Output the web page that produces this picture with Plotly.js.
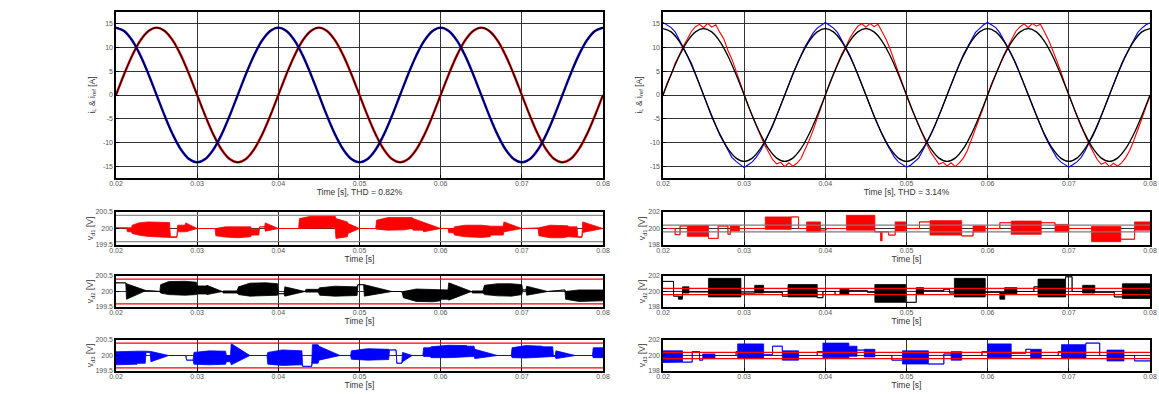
<!DOCTYPE html>
<html><head><meta charset="utf-8">
<script src="https://cdn.plot.ly/plotly-3.0.1.min.js"></script>
<style>html,body{margin:0;padding:0;background:#fff}#chart{width:1159px;height:394px}</style>
</head><body><div id="chart"></div>
<script>
// ---------- DATA ----------
const xTicks = [0.02,0.03,0.04,0.05,0.06,0.07,0.08];
const xTickText = ['0.02','0.03','0.04','0.05','0.06','0.07','0.08'];
const iTicks = [-15,-10,-5,0,5,10,15];
const vTicksLeft = [199.5,200,200.5];
const vTickTextLeft = ['199.5','200','200.5'];
const vTicksRight = [198,200,202];
const vTickTextRight = ['198','200','202'];
const limitsLeft = [200.4,199.6];
const limitsRight = [200.4,199.6];

// reference time grid (s) for the top plots
const tRef = [0.02,0.021,0.022,0.023,0.024,0.025,0.026,0.027,0.028,0.029,
0.03,0.031,0.032,0.033,0.034,0.035,0.036,0.037,0.038,0.039,
0.04,0.041,0.042,0.043,0.044,0.045,0.046,0.047,0.048,0.049,
0.05,0.051,0.052,0.053,0.054,0.055,0.056,0.057,0.058,0.059,
0.06,0.061,0.062,0.063,0.064,0.065,0.066,0.067,0.068,0.069,
0.07,0.071,0.072,0.073,0.074,0.075,0.076,0.077,0.078,0.079,0.08];

// left: currents and references (THD 0.82%)
const iL1Left = [0,4.39,8.35,11.49,13.5,14.2,13.5,11.49,8.35,4.39,0,-4.39,-8.35,-11.49,-13.5,-14.2,-13.5,-11.49,-8.35,-4.39,
0,4.39,8.35,11.49,13.5,14.2,13.5,11.49,8.35,4.39,0,-4.39,-8.35,-11.49,-13.5,-14.2,-13.5,-11.49,-8.35,-4.39,
0,4.39,8.35,11.49,13.5,14.2,13.5,11.49,8.35,4.39,0,-4.39,-8.35,-11.49,-13.5,-14.2,-13.5,-11.49,-8.35,-4.39,0];
const iL2Left = [14.2,13.5,11.49,8.35,4.39,0,-4.39,-8.35,-11.49,-13.5,-14.2,-13.5,-11.49,-8.35,-4.39,0,4.39,8.35,11.49,13.5,
14.2,13.5,11.49,8.35,4.39,0,-4.39,-8.35,-11.49,-13.5,-14.2,-13.5,-11.49,-8.35,-4.39,0,4.39,8.35,11.49,13.5,
14.2,13.5,11.49,8.35,4.39,0,-4.39,-8.35,-11.49,-13.5,-14.2,-13.5,-11.49,-8.35,-4.39,0,4.39,8.35,11.49,13.5,14.2];
const iRef1Left = [0,4.39,8.35,11.49,13.5,14.2,13.5,11.49,8.35,4.39,0,-4.39,-8.35,-11.49,-13.5,-14.2,-13.5,-11.49,-8.35,-4.39,
0,4.39,8.35,11.49,13.5,14.2,13.5,11.49,8.35,4.39,0,-4.39,-8.35,-11.49,-13.5,-14.2,-13.5,-11.49,-8.35,-4.39,
0,4.39,8.35,11.49,13.5,14.2,13.5,11.49,8.35,4.39,0,-4.39,-8.35,-11.49,-13.5,-14.2,-13.5,-11.49,-8.35,-4.39,0];
const iRef2Left = [14.2,13.5,11.49,8.35,4.39,0,-4.39,-8.35,-11.49,-13.5,-14.2,-13.5,-11.49,-8.35,-4.39,0,4.39,8.35,11.49,13.5,
14.2,13.5,11.49,8.35,4.39,0,-4.39,-8.35,-11.49,-13.5,-14.2,-13.5,-11.49,-8.35,-4.39,0,4.39,8.35,11.49,13.5,
14.2,13.5,11.49,8.35,4.39,0,-4.39,-8.35,-11.49,-13.5,-14.2,-13.5,-11.49,-8.35,-4.39,0,4.39,8.35,11.49,13.5,14.2];

// right: references (amplitude 14 A)
const iRef1Right = [0,4.33,8.23,11.33,13.31,14,13.31,11.33,8.23,4.33,0,-4.33,-8.23,-11.33,-13.31,-14,-13.31,-11.33,-8.23,-4.33,
0,4.33,8.23,11.33,13.31,14,13.31,11.33,8.23,4.33,0,-4.33,-8.23,-11.33,-13.31,-14,-13.31,-11.33,-8.23,-4.33,
0,4.33,8.23,11.33,13.31,14,13.31,11.33,8.23,4.33,0,-4.33,-8.23,-11.33,-13.31,-14,-13.31,-11.33,-8.23,-4.33,0];
const iRef2Right = [14,13.31,11.33,8.23,4.33,0,-4.33,-8.23,-11.33,-13.31,-14,-13.31,-11.33,-8.23,-4.33,0,4.33,8.23,11.33,13.31,
14,13.31,11.33,8.23,4.33,0,-4.33,-8.23,-11.33,-13.31,-14,-13.31,-11.33,-8.23,-4.33,0,4.33,8.23,11.33,13.31,
14,13.31,11.33,8.23,4.33,0,-4.33,-8.23,-11.33,-13.31,-14,-13.31,-11.33,-8.23,-4.33,0,4.33,8.23,11.33,13.31,14];

// right: measured currents (THD 3.14%), sampled every 0.5 ms
const tMeas = [0.02,0.0205,0.021,0.0215,0.022,0.0225,0.023,0.0235,0.024,0.0245,
0.025,0.0255,0.026,0.0265,0.027,0.0275,0.028,0.0285,0.029,0.0295,
0.03,0.0305,0.031,0.0315,0.032,0.0325,0.033,0.0335,0.034,0.0345,
0.035,0.0355,0.036,0.0365,0.037,0.0375,0.038,0.0385,0.039,0.0395,
0.04,0.0405,0.041,0.0415,0.042,0.0425,0.043,0.0435,0.044,0.0445,
0.045,0.0455,0.046,0.0465,0.047,0.0475,0.048,0.0485,0.049,0.0495,
0.05,0.0505,0.051,0.0515,0.052,0.0525,0.053,0.0535,0.054,0.0545,
0.055,0.0555,0.056,0.0565,0.057,0.0575,0.058,0.0585,0.059,0.0595,
0.06,0.0605,0.061,0.0615,0.062,0.0625,0.063,0.0635,0.064,0.0645,
0.065,0.0655,0.066,0.0665,0.067,0.0675,0.068,0.0685,0.069,0.0695,
0.07,0.0705,0.071,0.0715,0.072,0.0725,0.073,0.0735,0.074,0.0745,
0.075,0.0755,0.076,0.0765,0.077,0.0775,0.078,0.0785,0.079,0.0795,0.08];
const iL1Right = [0,
2.5,4.3,6.7,8.4,10.3,11.8,13.4,14.4,14.9,14.2,15.1,14.3,14.8,13.2,11.8,9.4,7.5,5.1,2.5,0,
-2.3,-4.5,-6.6,-8.7,-10.5,-12.0,-13.6,-14.5,-14.2,-15.1,-14.3,-15.0,-14.4,-13.4,-11.6,-9.6,-7.4,-4.9,-2.4,0,
2.4,4.5,6.5,8.6,10.1,11.9,13.3,14.5,15.0,14.3,15.1,14.4,14.9,13.4,11.7,9.6,7.3,4.9,2.4,0,
-2.4,-4.4,-6.7,-8.5,-10.4,-12.1,-13.5,-14.6,-14.2,-15.0,-14.3,-15.1,-14.3,-13.3,-11.7,-9.5,-7.3,-5.0,-2.5,0,
2.5,4.4,6.6,8.5,10.2,11.9,13.5,14.4,15.0,14.2,15.1,14.5,14.9,13.3,11.6,9.5,7.4,5.0,2.4,0,
-2.3,-4.5,-6.6,-8.6,-10.4,-12.0,-13.6,-14.6,-14.2,-15.1,-14.4,-15.0,-14.3,-13.2,-11.7,-9.6,-7.4,-5.0,-2.5,-0.3];
const iL2Right = [15.3,
14.8,14.2,13.3,11.7,10.2,8.4,6.7,4.5,2.2,0,-2.3,-4.6,-6.5,-8.5,-10.0,-11.6,-13.2,-14.0,-14.6,-15.3,
-14.7,-14.1,-13.1,-11.8,-10.1,-8.3,-6.6,-4.4,-2.3,0,2.2,4.5,6.6,8.4,10.2,11.7,13.1,14.1,14.7,15.3,
14.7,14.1,13.2,11.6,10.1,8.5,6.5,4.4,2.3,0,-2.2,-4.5,-6.6,-8.4,-10.1,-11.7,-13.1,-14.1,-14.6,-15.2,
-14.8,-14.0,-13.3,-11.7,-10.2,-8.4,-6.5,-4.5,-2.2,0,2.3,4.4,6.5,8.5,10.1,11.8,13.2,14.0,14.8,15.3,
14.8,14.2,13.1,11.7,10.0,8.4,6.6,4.4,2.2,0,-2.3,-4.4,-6.5,-8.5,-10.2,-11.6,-13.2,-14.1,-14.7,-15.2,
-14.7,-14.1,-13.2,-11.8,-10.0,-8.5,-6.6,-4.4,-2.3,0,2.2,4.5,6.6,8.4,10.1,11.7,13.2,14.1,14.8,15.2];

// left DC-link voltages: switching envelope (upper / lower)
const vd1L_t = [0.0200,0.0213,0.0214,0.0219,0.0220,0.0228,0.0240,0.0255,0.0266,0.0267,0.0275,0.0276,0.0285,0.0286,0.0300,0.0322,0.0323,0.0335,0.0350,0.0366,0.0367,0.0376,0.0377,0.0383,0.0384,0.0400,0.0425,0.0426,0.0440,0.0460,0.0470,0.0471,0.0485,0.0486,0.0500,0.0520,0.0521,0.0535,0.0555,0.0565,0.0566,0.0578,0.0579,0.0600,0.0609,0.0610,0.0616,0.0617,0.0630,0.0650,0.0661,0.0662,0.0677,0.0678,0.0700,0.0720,0.0721,0.0735,0.0750,0.0757,0.0758,0.0768,0.0769,0.0774,0.0775,0.0800];
const vd1L_hi = [200.02,200.02,200.02,200.02,200.10,200.17,200.20,200.20,200.18,199.75,199.75,200.10,200.10,200.17,200.00,200.00,200.00,200.05,200.06,200.05,199.98,199.98,200.05,200.05,200.17,200.00,200.00,200.30,200.37,200.37,200.37,200.30,200.20,200.15,200.00,200.00,200.25,200.33,200.33,200.33,200.30,200.20,200.17,200.00,200.00,200.00,200.00,200.05,200.10,200.10,200.07,200.07,200.07,200.20,200.00,200.00,200.02,200.10,200.10,200.08,200.05,200.05,199.75,199.75,200.20,200.00];
const vd1L_lo = [200.02,200.02,199.90,199.90,199.85,199.80,199.76,199.73,199.73,199.73,199.73,199.90,199.90,199.90,200.00,200.00,199.78,199.74,199.72,199.75,199.80,199.80,200.05,200.05,199.92,200.00,200.00,200.00,200.02,200.00,200.02,199.70,199.75,199.85,200.00,200.00,199.98,199.95,199.96,200.00,199.95,199.95,199.90,200.00,200.00,199.87,199.87,199.80,199.75,199.73,199.75,199.80,199.80,199.90,200.00,200.00,199.78,199.72,199.72,199.75,199.75,199.75,199.73,199.73,199.88,200.00];

const vd2L_t = [0.0200,0.0212,0.0213,0.0237,0.0254,0.0255,0.0265,0.0285,0.0299,0.0300,0.0311,0.0312,0.0331,0.0332,0.0349,0.0351,0.0365,0.0385,0.0399,0.0400,0.0407,0.0408,0.0433,0.0434,0.0449,0.0451,0.0470,0.0497,0.0498,0.0505,0.0506,0.0540,0.0552,0.0553,0.0554,0.0570,0.0590,0.0600,0.0601,0.0609,0.0610,0.0638,0.0639,0.0652,0.0654,0.0670,0.0687,0.0700,0.0701,0.0705,0.0706,0.0732,0.0753,0.0754,0.0770,0.0800];
const vd2L_hi = [200.28,200.28,200.25,200.03,200.00,200.22,200.32,200.33,200.30,200.18,200.18,200.20,200.00,200.02,200.02,200.15,200.27,200.28,200.25,199.93,199.93,200.15,200.00,200.07,200.07,200.12,200.17,200.15,200.22,200.22,200.22,200.00,200.00,199.93,200.00,200.08,200.07,200.05,200.05,200.05,200.28,200.00,200.02,200.02,200.20,200.25,200.25,200.22,200.05,200.05,200.17,200.00,200.05,200.00,200.05,200.05];
const vd2L_lo = [200.28,200.28,199.75,200.03,200.00,199.95,199.90,199.88,199.90,199.92,199.92,199.90,200.00,199.95,199.95,199.90,199.85,199.86,199.88,199.93,199.93,199.85,200.00,199.98,199.98,199.88,199.85,199.87,200.22,200.22,199.85,200.00,200.00,199.93,199.80,199.68,199.67,199.70,199.75,199.75,199.72,200.00,199.95,199.95,199.90,199.86,199.85,199.90,200.05,200.05,199.88,200.00,200.05,199.75,199.68,199.70];

const vd3L_t = [0.0200,0.0215,0.0226,0.0227,0.0236,0.0237,0.0242,0.0243,0.0265,0.0286,0.0287,0.0295,0.0296,0.0315,0.0335,0.0336,0.0341,0.0342,0.0365,0.0386,0.0387,0.0405,0.0429,0.0430,0.0441,0.0442,0.0449,0.0450,0.0476,0.0489,0.0490,0.0510,0.0536,0.0537,0.0545,0.0546,0.0552,0.0553,0.0565,0.0578,0.0579,0.0587,0.0588,0.0610,0.0632,0.0633,0.0641,0.0642,0.0670,0.0687,0.0688,0.0705,0.0725,0.0726,0.0738,0.0739,0.0741,0.0742,0.0766,0.0787,0.0788,0.0800];
const vd3L_hi = [200.12,200.14,200.14,200.14,200.14,200.14,200.14,200.13,200.00,200.00,199.85,199.85,200.10,200.15,200.14,200.00,200.00,200.38,200.00,200.00,200.10,200.18,200.15,199.65,199.65,200.35,200.35,200.30,200.00,200.00,200.15,200.22,200.20,200.18,200.18,199.75,199.75,200.10,200.00,200.00,200.25,200.25,200.28,200.33,200.32,200.30,200.30,200.20,200.00,200.00,200.25,200.32,200.30,200.28,200.28,199.97,199.97,200.15,200.00,200.00,200.25,200.25];
const vd3L_lo = [199.70,199.70,199.72,199.75,199.75,200.10,200.10,199.80,200.00,200.00,199.85,199.85,199.72,199.70,199.72,199.80,199.80,199.70,200.00,200.00,199.72,199.68,199.70,199.65,199.65,199.75,199.75,199.85,200.00,200.00,199.88,199.85,199.87,200.18,200.18,199.75,199.75,199.80,200.00,200.00,199.97,199.97,199.93,199.93,199.95,199.97,199.97,199.90,200.00,200.00,199.93,199.92,199.95,199.97,199.97,199.97,199.97,199.90,200.00,200.00,199.93,199.93];

// right DC-link voltages: segments (boundaries, upper, lower)
const vd1R_b = [0.0200,0.0215,0.0221,0.0230,0.0256,0.0268,0.0280,0.0283,0.0294,0.0326,0.0358,0.0367,0.0377,0.0394,0.0401,0.0426,0.0461,0.0468,0.0470,0.0478,0.0486,0.0499,0.0516,0.0529,0.0568,0.0582,0.0597,0.0615,0.0629,0.0666,0.0683,0.0700,0.0728,0.0764,0.0781,0.0800];
const vd1R_hi = [200.0,199.25,200.3,200.35,198.8,200.3,199.3,200.3,200.0,201.4,201.4,200.0,200.8,199.8,200.0,201.6,199.6,199.6,199.6,199.2,200.8,200.0,200.8,200.95,199.1,200.3,200.0,200.7,200.9,200.7,200.5,200.0,200.25,198.7,200.8];
const vd1R_lo = [200.0,199.25,200.3,199.05,198.8,200.3,199.3,199.7,200.0,199.9,201.4,200.0,199.6,199.8,200.0,199.8,199.6,198.5,199.6,199.2,199.7,200.0,200.8,199.2,199.1,199.6,200.0,200.7,199.3,200.7,199.6,200.0,198.4,198.7,199.8];

const vd2R_b = [0.0200,0.0213,0.0219,0.0224,0.0232,0.0256,0.0296,0.0313,0.0324,0.0347,0.0354,0.0390,0.0397,0.0412,0.0418,0.0429,0.0452,0.0461,0.0499,0.0512,0.0521,0.0546,0.0553,0.0559,0.0597,0.0615,0.0621,0.0636,0.0657,0.0662,0.0696,0.0704,0.0717,0.0732,0.0756,0.0766,0.0800];
const vd2R_hi = [201.3,199.4,199.4,200.6,199.95,201.7,199.8,200.8,199.9,199.4,200.9,199.2,200.0,199.6,200.3,200.1,199.9,200.9,198.6,200.5,200.1,200.3,199.8,201.7,199.9,199.9,200.5,200.0,200.6,201.6,201.9,200.0,200.8,199.9,199.3,201.0];
const vd2R_lo = [201.3,199.4,199.0,199.8,199.95,199.3,199.8,199.8,199.9,199.4,199.3,199.2,200.0,199.6,199.6,200.1,199.9,198.6,198.6,199.7,200.1,200.3,199.8,199.3,199.9,199.0,199.7,200.0,200.6,199.3,201.9,200.0,199.8,199.9,199.3,199.1];

const vd3R_b = [0.0200,0.0224,0.0236,0.0245,0.0249,0.0264,0.0290,0.0292,0.0324,0.0335,0.0347,0.0367,0.0390,0.0397,0.0429,0.0439,0.0448,0.0461,0.0482,0.0495,0.0527,0.0546,0.0555,0.0568,0.0593,0.0600,0.0629,0.0647,0.0653,0.0666,0.0687,0.0691,0.0721,0.0738,0.0747,0.0768,0.0781,0.0800];
const vd3R_hi = [200.6,199.15,200.5,199.4,200.2,200.0,200.5,201.5,200.1,201.2,200.6,200.0,200.5,201.6,201.2,200.7,200.8,200.0,199.4,200.6,198.9,200.2,200.5,200.0,200.5,201.5,200.3,200.8,200.8,200.0,200.5,201.4,201.6,200.0,200.7,200.0,199.3];
const vd3R_lo = [199.1,199.15,200.5,199.4,199.6,200.0,200.5,199.6,200.1,201.2,199.4,200.0,200.5,199.7,199.9,200.7,199.8,200.0,199.4,198.9,198.9,200.2,199.4,200.0,200.5,199.7,200.3,200.8,199.6,200.0,200.5,199.6,201.6,200.0,199.3,200.0,199.3];

// ---------- BUILD ----------
const RED = '#ff0000', BLUE = '#0000ff', BLACK = '#000000';
const FONT = 'Liberation Sans, Arial, sans-serif';
const traces = [];

function segPoints(b, hi, lo) {
  const x = [], h = [], l = [];
  for (let i = 0; i < hi.length; i++) {
    x.push(b[i], b[i + 1]); h.push(hi[i], hi[i]); l.push(lo[i], lo[i]);
  }
  return {x, h, l};
}
function band(x, hi, lo, color, k) {
  const xa = 'x' + k, ya = 'y' + k;
  traces.push({x: x, y: lo, xaxis: xa, yaxis: ya, mode: 'lines', line: {color: color, width: 0.8}, hoverinfo: 'skip', showlegend: false});
  traces.push({x: x, y: hi, xaxis: xa, yaxis: ya, mode: 'lines', line: {color: color, width: 0.8}, fill: 'tonexty', fillcolor: color, hoverinfo: 'skip', showlegend: false});
}
function limits(vals, color, k) {
  const xa = 'x' + k, ya = 'y' + k;
  vals.forEach(v => traces.push({x: [xTicks[0], xTicks[xTicks.length - 1]], y: [v, v], xaxis: xa, yaxis: ya, mode: 'lines', line: {color: color, width: 1.3}, hoverinfo: 'skip', showlegend: false}));
}
function line(x, y, color, w, k, shape) {
  const xa = 'x' + (k === 1 ? '' : k), ya = 'y' + (k === 1 ? '' : k);
  traces.push({x: x, y: y, xaxis: xa, yaxis: ya, mode: 'lines', line: {color: color, width: w, shape: shape || 'linear'}, hoverinfo: 'skip', showlegend: false});
}

// top-left
line(tRef, iL1Left, RED, 2.4, 1, 'spline');
line(tRef, iL2Left, BLUE, 2.4, 1, 'spline');
line(tRef, iRef1Left, BLACK, 1.1, 1, 'spline');
line(tRef, iRef2Left, BLACK, 1.1, 1, 'spline');
// top-right
line(tMeas, iL1Right, RED, 1.1, 2);
line(tMeas, iL2Right, BLUE, 1.1, 2);
line(tRef, iRef1Right, BLACK, 1.3, 2, 'spline');
line(tRef, iRef2Right, BLACK, 1.3, 2, 'spline');
// left voltages
band(vd1L_t, vd1L_hi, vd1L_lo, RED, 3); limits(limitsLeft, '#8c8c8c', 3);
band(vd2L_t, vd2L_hi, vd2L_lo, BLACK, 4); limits(limitsLeft, RED, 4);
band(vd3L_t, vd3L_hi, vd3L_lo, BLUE, 5); limits(limitsLeft, RED, 5);
// right voltages
let p;
p = segPoints(vd1R_b, vd1R_hi, vd1R_lo); band(p.x, p.h, p.l, RED, 6); limits(limitsRight, '#7a7a7a', 6);
p = segPoints(vd2R_b, vd2R_hi, vd2R_lo); band(p.x, p.h, p.l, BLACK, 7); limits(limitsRight, RED, 7);
p = segPoints(vd3R_b, vd3R_hi, vd3R_lo); band(p.x, p.h, p.l, BLUE, 8); limits(limitsRight, RED, 8);

// ---------- LAYOUT ----------
const W = 1159, H = 394;
const colL = [116 / W, 603 / W], colR = [663 / W, 1150 / W];
const rowTop = [1 - 178 / H, 1 - 12 / H];
const row1 = [1 - 245 / H, 1 - 212 / H];
const row2 = [1 - 307 / H, 1 - 276 / H];
const row3 = [1 - 371 / H, 1 - 340 / H];

function xax(dom, anchor, title) {
  return {domain: dom, anchor: anchor, range: [0.02, 0.08], tickmode: 'array', tickvals: xTicks, ticktext: xTickText,
    showgrid: true, gridcolor: '#333', gridwidth: 1, zeroline: false, showline: true, linecolor: '#000', linewidth: 1.6, mirror: true,
    ticks: 'inside', ticklen: 3, tickcolor: '#000', tickfont: {family: FONT, size: 7, color: '#555'}, ticklabelstandoff: -2,
    title: {text: title, font: {family: FONT, size: 8.5, color: '#333'}, standoff: 0}, automargin: false, fixedrange: true};
}
function yax(dom, anchor, range, tv, tt, title, so) {
  return {domain: dom, anchor: anchor, range: range, tickmode: 'array', tickvals: tv, ticktext: tt,
    showgrid: true, gridcolor: '#333', gridwidth: 1, zeroline: false, showline: true, linecolor: '#000', linewidth: 1.6, mirror: true,
    ticks: 'inside', ticklen: 3, tickcolor: '#000', tickfont: {family: FONT, size: 7, color: '#555'},
    title: {text: title, font: {family: FONT, size: 8.5, color: '#333'}, standoff: so}, automargin: false, fixedrange: true};
}
const iTickText = iTicks.map(String);
const iTitle = 'i<sub>L</sub> & i<sub>ref</sub> [A]';
const layout = {
  width: W, height: H, margin: {l: 0, r: 0, t: 0, b: 0}, paper_bgcolor: '#fff', plot_bgcolor: '#fff', showlegend: false,
  font: {family: FONT},
  xaxis: xax(colL, 'y', 'Time [s], THD = 0.82%'),
  yaxis: yax(rowTop, 'x', [-17.5, 17.5], iTicks, iTickText, iTitle, 6),
  xaxis2: xax(colR, 'y2', 'Time [s], THD = 3.14%'),
  yaxis2: yax(rowTop, 'x2', [-17.5, 17.5], iTicks, iTickText, iTitle, 6),
  xaxis3: xax(colL, 'y3', 'Time [s]'),
  yaxis3: yax(row1, 'x3', [199.5, 200.5], vTicksLeft, vTickTextLeft, 'v<sub>d1</sub> [V]', 0),
  xaxis4: xax(colL, 'y4', 'Time [s]'),
  yaxis4: yax(row2, 'x4', [199.5, 200.5], vTicksLeft, vTickTextLeft, 'v<sub>d2</sub> [V]', 0),
  xaxis5: xax(colL, 'y5', 'Time [s]'),
  yaxis5: yax(row3, 'x5', [199.5, 200.5], vTicksLeft, vTickTextLeft, 'v<sub>d3</sub> [V]', 0),
  xaxis6: xax(colR, 'y6', 'Time [s]'),
  yaxis6: yax(row1, 'x6', [198, 202], vTicksRight, vTickTextRight, 'v<sub>d1</sub> [V]', 1),
  xaxis7: xax(colR, 'y7', 'Time [s]'),
  yaxis7: yax(row2, 'x7', [198, 202], vTicksRight, vTickTextRight, 'v<sub>d2</sub> [V]', 1),
  xaxis8: xax(colR, 'y8', 'Time [s]'),
  yaxis8: yax(row3, 'x8', [198, 202], vTicksRight, vTickTextRight, 'v<sub>d3</sub> [V]', 1)
};
Plotly.newPlot('chart', traces, layout, {staticPlot: true, displayModeBar: false});
</script>
</body></html>
